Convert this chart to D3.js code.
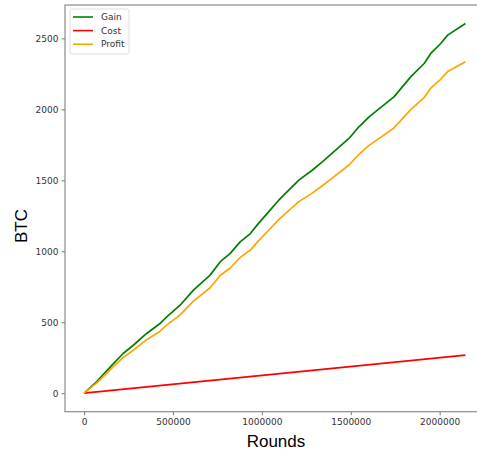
<!DOCTYPE html>
<html>
<head>
<meta charset="utf-8">
<script src="https://cdn.jsdelivr.net/npm/d3@7"></script>
<style>
  body { margin: 0; background: #fff; }
  svg { display: block; }
  .tick text { font-family: "DejaVu Sans", sans-serif; font-size: 9px; fill: #333; }
</style>
</head>
<body>
<svg width="477" height="458"></svg>
<script>
// values
var rounds = [0, 70000, 165000, 220000, 277000, 352000, 427000, 465000, 540000, 615000,
  709000, 765000, 822000, 878000, 935000, 980000, 1038000, 1095000, 1151000, 1208000,
  1283000, 1340000, 1415000, 1490000, 1546000, 1603000, 1650000, 1743000, 1837000,
  1913000, 1950000, 2006000, 2045000, 2145000];
var gain = [0, 80, 209, 280, 338, 421, 491, 538, 620, 726,
  832, 925, 985, 1066, 1125, 1195, 1278, 1360, 1431, 1501,
  1571, 1630, 1712, 1795, 1877, 1947, 1994, 2088, 2229,
  2323, 2394, 2464, 2523, 2605];
var profit = [0, 71, 188, 252, 303, 377, 437, 480, 552, 649,
  743, 829, 882, 956, 1008, 1072, 1148, 1223, 1287, 1350,
  1410, 1462, 1535, 1608, 1683, 1746, 1787, 1869, 1998,
  2083, 2149, 2212, 2266, 2336];
var costRounds = [0, 2145000];
var cost = [0, 269];
var xTicks = [0, 500000, 1000000, 1500000, 2000000];
var yTicks = [0, 500, 1000, 1500, 2000, 2500];

var svg = d3.select("svg");
var axL = 65, axT = 5, axB = 411.7, axR = 484.5;

var x = d3.scaleLinear().domain([-107250, 2252250]).range([axL, axR]);
var y = d3.scaleLinear().domain([-130.25, 2735.25]).range([axB, axT]);

var line = d3.line()
    .x(function(d) { return x(d[0]); })
    .y(function(d) { return y(d[1]); });

var series = [
  { name: "Gain", color: "#008000", pts: d3.zip(rounds, gain) },
  { name: "Cost", color: "#ff0000", pts: d3.zip(costRounds, cost) },
  { name: "Profit", color: "#ffa500", pts: d3.zip(rounds, profit) }
];

svg.selectAll("path.series")
    .data(series)
    .enter()
  .append("path")
    .attr("class", "series")
    .attr("d", function(d) { return line(d.pts); })
    .attr("fill", "none")
    .attr("stroke", function(d) { return d.color; })
    .attr("stroke-width", 1.7)
    .attr("stroke-linejoin", "round");

// axes
var xAxis = svg.append("g")
    .attr("transform", "translate(0," + axB + ")")
    .call(d3.axisBottom(x).tickValues(xTicks).tickFormat(d3.format("d")).tickSize(3.5).tickPadding(3));
var yAxis = svg.append("g")
    .attr("transform", "translate(" + axL + ",0)")
    .call(d3.axisLeft(y).tickValues(yTicks).tickFormat(d3.format("d")).tickSize(3.5).tickPadding(3));
[xAxis, yAxis].forEach(function(a) {
  a.select(".domain").remove();
  a.selectAll(".tick line").attr("stroke", "#555").attr("stroke-width", 0.8);
});

// frame
svg.append("rect")
    .attr("x", axL).attr("y", axT)
    .attr("width", axR - axL).attr("height", axB - axT)
    .attr("fill", "none")
    .attr("stroke", "#8c8c8c")
    .attr("stroke-width", 1.2);

// labels
svg.append("text")
    .attr("x", 276).attr("y", 447)
    .attr("text-anchor", "middle")
    .style("font-family", "Liberation Sans, Arial, sans-serif")
    .style("font-size", "17px")
    .text("Rounds");
svg.append("text")
    .attr("transform", "translate(27,226) rotate(-90)")
    .attr("text-anchor", "middle")
    .style("font-family", "Liberation Sans, Arial, sans-serif")
    .style("font-size", "17px")
    .text("BTC");

// legend
var lg = svg.append("g").attr("transform", "translate(70,9)");
lg.append("rect")
    .attr("width", 59).attr("height", 45).attr("rx", 2)
    .attr("fill", "#fff").attr("fill-opacity", 0.8)
    .attr("stroke", "#d6d6d6").attr("stroke-width", 0.8);
var item = lg.selectAll("g.item")
    .data(series)
    .enter()
  .append("g")
    .attr("class", "item")
    .attr("transform", function(d, i) { return "translate(0," + (8 + i * 13.6) + ")"; });
item.append("line")
    .attr("x1", 3).attr("x2", 23)
    .attr("stroke", function(d) { return d.color; })
    .attr("stroke-width", 1.6);
item.append("text")
    .attr("x", 31).attr("y", 3.2)
    .style("font-family", "DejaVu Sans, sans-serif")
    .style("font-size", "9px")
    .attr("fill", "#333")
    .text(function(d) { return d.name; });
</script>
</body>
</html>
